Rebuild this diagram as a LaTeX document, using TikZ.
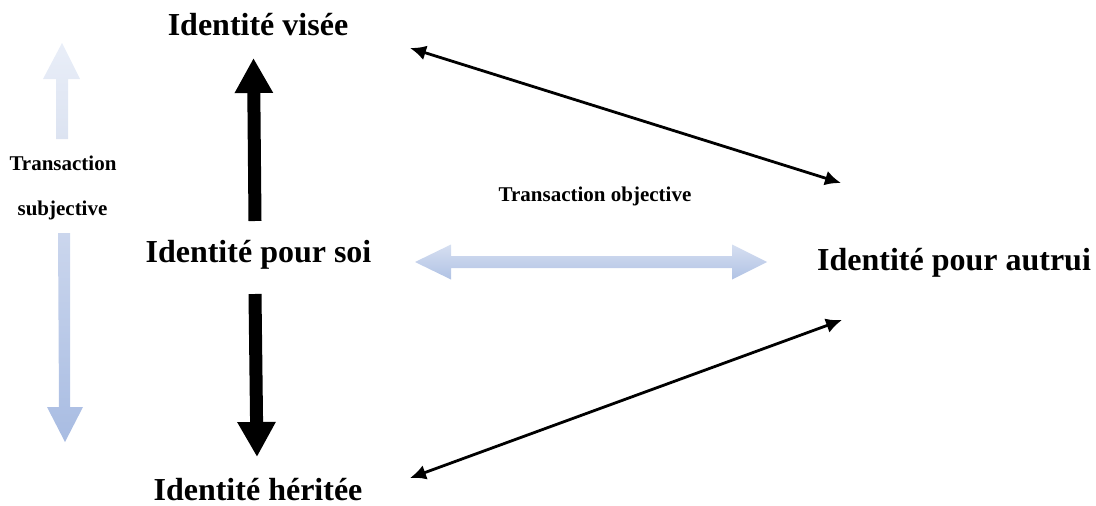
\documentclass[tikz,border=0pt]{standalone}
\usepackage{fontspec}
\setmainfont{Liberation Serif}
\usetikzlibrary{arrows.meta}
\definecolor{paleA}{HTML}{E9EEF8}
\definecolor{paleB}{HTML}{DCE3F1}
\definecolor{midA}{HTML}{CBD6ED}
\definecolor{midB}{HTML}{A8BCE2}
\definecolor{horA}{HTML}{D6DFF1}
\definecolor{horB}{HTML}{B0C2E4}
\tikzset{
  biglabel/.style={inner sep=0pt, anchor=base, font=\fontsize{32}{38}\selectfont\bfseries},
  smalllabel/.style={inner sep=0pt, anchor=base, font=\fontsize{21}{25}\selectfont\bfseries},
  thickarrow/.style={line width=13pt, -{Triangle[width=36pt,length=35pt]}},
  thinarrow/.style={line width=2.8pt, {Latex[length=16pt,width=15pt]}-{Latex[length=16pt,width=15pt]}}
}
\begin{document}
\begin{tikzpicture}[x=1pt,y=-1pt]
\useasboundingbox (0,0) rectangle (1096,506);
% labels
\node[biglabel] (visee) at (258,35) {Identité visée};
\node[biglabel] (soi) at (258.5,262) {Identité pour soi};
\node[biglabel] (heritee) at (258,500) {Identité héritée};
\node[biglabel] (autrui) at (954,270) {Identité pour autrui};
\node[smalllabel] (tobj) at (595,201) {Transaction objective};
\node[smalllabel] (tsub1) at (63,170) {Transaction};
\node[smalllabel] (tsub2) at (62.5,215) {subjective};
% thick black arrows
\coordinate (upA) at (255,221);
\coordinate (upB) at (253.5,58);
\coordinate (dnA) at (255,294);
\coordinate (dnB) at (257,457);
\draw[thickarrow] (upA) -- (upB);
\draw[thickarrow] (dnA) -- (dnB);
% thin black double arrows
\coordinate (t1a) at (410,48);
\coordinate (t1b) at (841,183);
\coordinate (t2a) at (410,478);
\coordinate (t2b) at (842,320);
\draw[thinarrow] (t1a) -- (t1b);
\draw[thinarrow] (t2a) -- (t2b);
% pale vertical arrows (left)
\shade[top color=paleA, bottom color=paleB]
  (56,139) -- (56,79) -- (43,79) -- (62,43) -- (80,79) -- (68,79) -- (68,139) -- cycle;
\shade[top color=midA, bottom color=midB]
  (58,233) -- (70,233) -- (70,407) -- (83,407) -- (65,442) -- (47,407) -- (59,407) -- cycle;
% pale horizontal double arrow
\shade[top color=horA, bottom color=horB]
  (415,262) -- (451,244.5) -- (451,256) -- (732,256) -- (732,244.5) -- (767,262)
  -- (732,279.5) -- (732,268) -- (451,268) -- (451,279.5) -- cycle;
\end{tikzpicture}
\end{document}
